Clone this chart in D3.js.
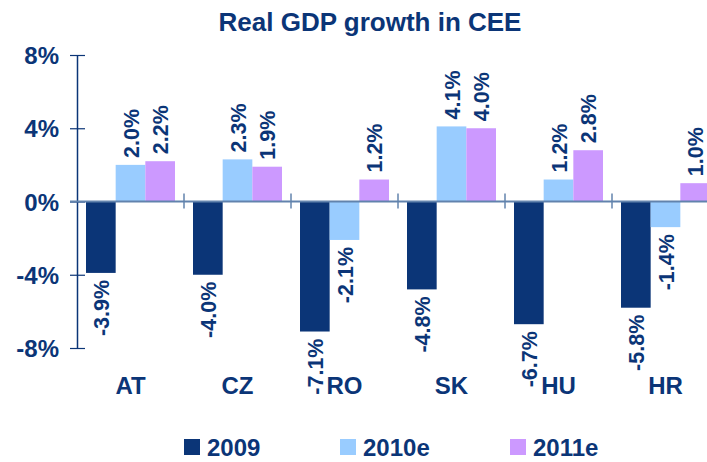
<!DOCTYPE html>
<html>
<head>
<meta charset="utf-8">
<script src="https://cdn.jsdelivr.net/npm/d3@7"></script>
<style>
  body { margin: 0; background: #fff; }
  svg text { font-family: "Liberation Sans", Arial, sans-serif; font-weight: bold; fill: #0b3577; }
</style>
</head>
<body>
<svg id="chart" width="707" height="462"></svg>
<script>
// data
var countries = ["AT", "CZ", "RO", "SK", "HU", "HR"];
var seriesNames = ["2009", "2010e", "2011e"];
var growth2009 = [-3.9, -4.0, -7.1, -4.8, -6.7, -5.8];
var growth2010 = [2.0, 2.3, -2.1, 4.1, 1.2, -1.4];
var growth2011 = [2.2, 1.9, 1.2, 4.0, 2.8, 1.0];
var yTicks = [-8, -4, 0, 4, 8];
var colors = ["#0b3577", "#99ccff", "#cc99ff"];

var allSeries = [growth2009, growth2010, growth2011];

var svg = d3.select("#chart");

var x = d3.scaleBand().domain(countries).range([77, 719]).paddingInner(0).paddingOuter(0);
var xIn = d3.scaleBand().domain(seriesNames).range([9, x.bandwidth() - 9]);
var y = d3.scaleLinear().domain([-8, 8]).range([348, 55]);

// title
svg.append("text")
  .attr("x", 370).attr("y", 31)
  .attr("text-anchor", "middle")
  .style("font-size", "26px")
  .text("Real GDP growth in CEE");

// bars
var groups = svg.selectAll("g.country")
  .data(countries)
  .enter().append("g")
  .attr("class", "country")
  .attr("transform", function(d) { return "translate(" + x(d) + ",0)"; });

groups.each(function(c, ci) {
  var g = d3.select(this);
  seriesNames.forEach(function(s, si) {
    var v = allSeries[si][ci];
    g.append("rect")
      .attr("x", xIn(s))
      .attr("width", xIn.bandwidth())
      .attr("y", Math.min(y(v), y(0)))
      .attr("height", Math.abs(y(v) - y(0)))
      .attr("fill", colors[si]);

    // value label, rotated to read upward
    var cx = xIn(s) + xIn.bandwidth() / 2;
    var ly = v >= 0 ? y(v) - 7 : y(v) + 7;
    g.append("text")
      .attr("transform", "translate(" + (cx + 8) + "," + ly + ") rotate(-90)")
      .attr("text-anchor", v >= 0 ? "start" : "end")
      .style("font-size", "21.5px")
      .text(v.toFixed(1) + "%");
  });
});

// y axis
var yAxis = d3.axisLeft(y).tickValues(yTicks).tickSize(0).tickFormat(function(d) { return d + "%"; });
var yg = svg.append("g").attr("transform", "translate(77,0)").call(yAxis);
yg.select(".domain").attr("stroke", "#0b3577").attr("stroke-width", 1.5);
yg.selectAll(".tick text").attr("x", -18).attr("dy", "0.36em").style("font-size", "24px");
yg.selectAll(".tick").append("line")
  .attr("x1", -7).attr("x2", 8)
  .attr("stroke", "#0b3577").attr("stroke-width", 1.2);

// x axis at zero
svg.append("line")
  .attr("x1", 70).attr("x2", 707)
  .attr("y1", y(0)).attr("y2", y(0))
  .attr("stroke", "#6283ad").attr("stroke-width", 2);
svg.selectAll("line.xtick")
  .data(countries.slice(1))
  .enter().append("line")
  .attr("class", "xtick")
  .attr("x1", function(d) { return x(d); })
  .attr("x2", function(d) { return x(d); })
  .attr("y1", y(0) - 8).attr("y2", y(0) + 7)
  .attr("stroke", "#6283ad").attr("stroke-width", 1.5);

// category labels
svg.selectAll("text.cat")
  .data(countries)
  .enter().append("text")
  .attr("class", "cat")
  .attr("x", function(d) { return x(d) + x.bandwidth() / 2; })
  .attr("y", 394)
  .attr("text-anchor", "middle")
  .style("font-size", "24px")
  .text(function(d) { return d; });

// legend
var legendX = [184, 340, 510];
var legend = svg.selectAll("g.legend")
  .data(seriesNames)
  .enter().append("g")
  .attr("class", "legend")
  .attr("transform", function(d, i) { return "translate(" + legendX[i] + ",439)"; });
legend.append("rect")
  .attr("width", 16).attr("height", 16)
  .attr("fill", function(d, i) { return colors[i]; });
legend.append("text")
  .attr("x", 23).attr("y", 17)
  .style("font-size", "24px")
  .text(function(d) { return d; });
</script>
</body>
</html>
